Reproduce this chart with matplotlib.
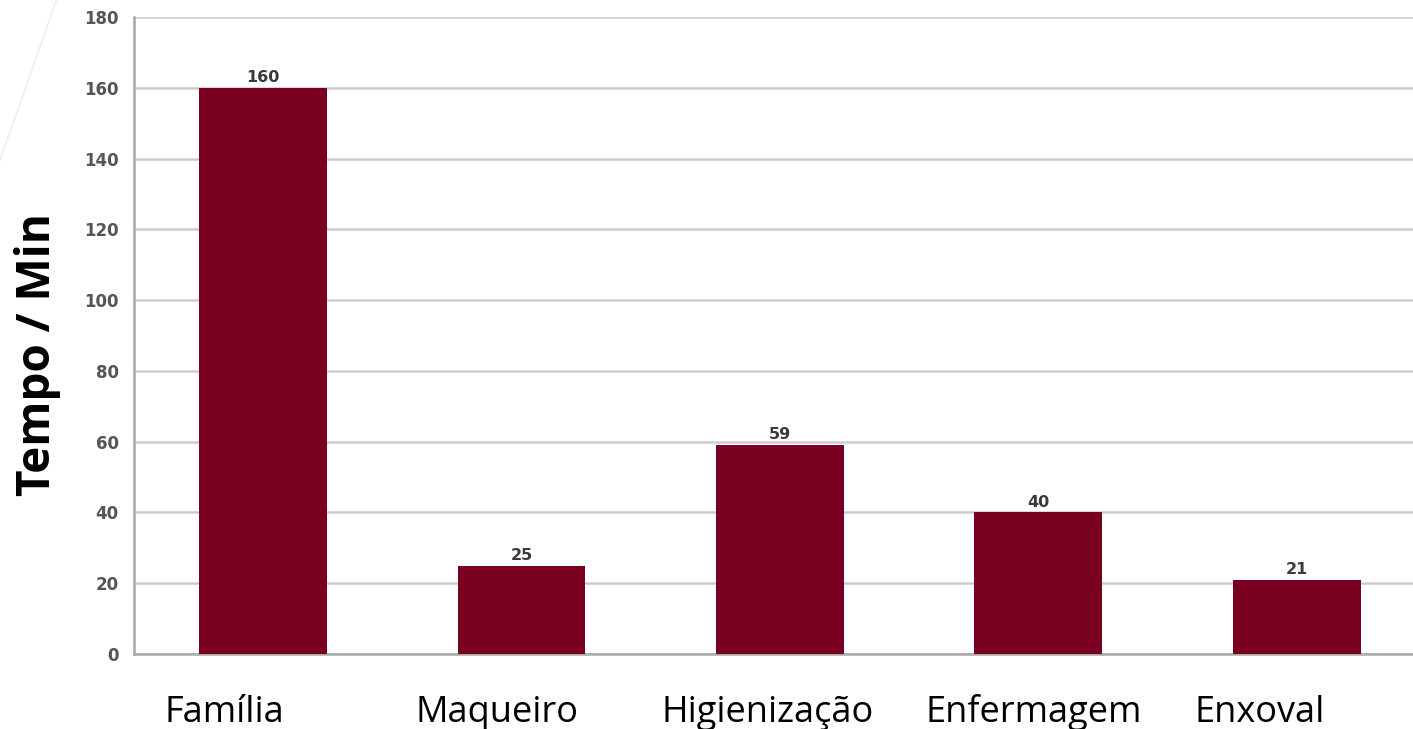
import numpy as np
import matplotlib.pyplot as plt
from matplotlib.lines import Line2D

# tempo por setor, em minutos
setores = ["Família", "Maqueiro", "Higienização", "Enfermagem", "Enxoval"]
tempos = [160, 25, 59, 40, 21]
yticks = [0, 20, 40, 60, 80, 100, 120, 140, 160, 180]
# deslocamento dos rótulos de baixo em relação ao centro de cada barra
desloc_rotulo = [-0.15, -0.095, -0.047, -0.017, -0.143]

bar_color = "#7a0022"
grid_color = "#cdcdcd"

fig = plt.figure(figsize=(14.13, 7.29), dpi=100)
ax = fig.add_axes([0.0948, 0.1029, 0.9052, 0.8738])

x = np.arange(len(setores))
bars = ax.bar(x, tempos, width=0.495, color=bar_color, zorder=3)

ax.set_xlim(-0.5, 4.45)
ax.set_ylim(0, 180)
ax.set_yticks(yticks)
ax.set_yticklabels([str(v) for v in yticks], fontsize=12, fontweight="bold",
                   color="#555555")
ax.tick_params(axis="y", length=0, pad=11)
ax.set_xticks([])

ax.grid(axis="y", color=grid_color, linewidth=1.8, zorder=0)
for side in ["top", "right"]:
    ax.spines[side].set_visible(False)
ax.spines["left"].set_color("#a8a8a8")
ax.spines["left"].set_linewidth(1.8)
ax.spines["bottom"].set_color("#a8a8a8")
ax.spines["bottom"].set_linewidth(1.8)

# valores sobre as barras
for xi, v in zip(x, tempos):
    ax.annotate(str(v), (xi, v), xytext=(0, 2), textcoords="offset points",
                ha="center", va="bottom", fontsize=11.5, fontweight="bold",
                color="#3a3a3a")

# nomes dos setores
for xi, d, nome in zip(x, desloc_rotulo, setores):
    ax.text(xi + d, -0.107, nome, transform=ax.get_xaxis_transform(),
            ha="center", va="baseline", fontsize=26, family="Open Sans",
            color="black")

ax.set_ylabel("Tempo / Min", fontsize=33, fontweight="bold", family="Open Sans",
              color="black")
ax.yaxis.set_label_coords(-0.057, 0.47)

# traço claro no canto superior esquerdo
fig.add_artist(Line2D([0.0, 0.04], [0.78, 1.0], transform=fig.transFigure,
                      color="#eeeeee", linewidth=1.2))

fig.savefig("out.png", dpi=100)
